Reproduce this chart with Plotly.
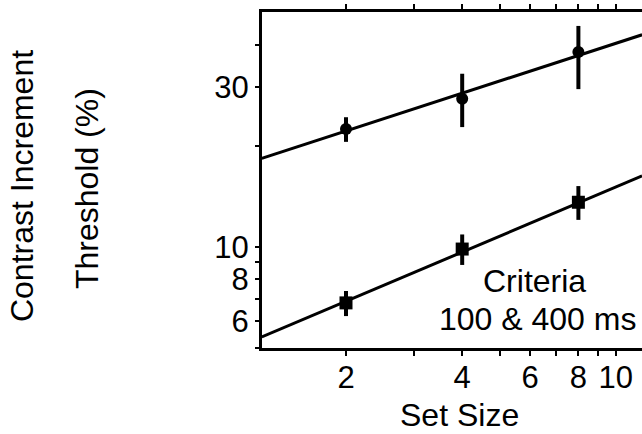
import plotly.graph_objects as go
import numpy as np

# Data
set_size = [2, 4, 8]
circ_y = [22.5, 27.7, 38.2]
circ_lo = [20.6, 22.8, 29.6]
circ_hi = [24.4, 32.9, 45.7]
sq_y = [6.81, 9.86, 13.6]
sq_lo = [6.22, 8.84, 12.05]
sq_hi = [7.39, 10.9, 15.2]
fit_x = [1.21, 11.7]
fit_circ = [18.4, 43.0]
fit_sq = [5.39, 16.3]
x_tickvals = [2, 3, 4, 5, 6, 7, 8, 9, 10]
x_ticktext = ["2", "", "4", "", "6", "", "8", "", "10"]
y_tickvals = [5, 6, 7, 8, 9, 10, 20, 30, 40]
y_ticktext = ["", "6", "", "8", "", "10", "", "30", ""]

FONT = "Arial, Liberation Sans, sans-serif"

fig = go.Figure()
fig.add_trace(go.Scatter(x=fit_x, y=fit_circ, mode="lines",
                         line=dict(color="black", width=3), showlegend=False))
fig.add_trace(go.Scatter(x=fit_x, y=fit_sq, mode="lines",
                         line=dict(color="black", width=3), showlegend=False))
fig.add_trace(go.Scatter(
    x=set_size, y=circ_y, mode="markers",
    marker=dict(symbol="circle", size=12, color="black"),
    error_y=dict(type="data", symmetric=False,
                 array=list(np.array(circ_hi) - np.array(circ_y)),
                 arrayminus=list(np.array(circ_y) - np.array(circ_lo)),
                 thickness=4, width=0, color="black"),
    showlegend=False))
fig.add_trace(go.Scatter(
    x=set_size, y=sq_y, mode="markers",
    marker=dict(symbol="square", size=13, color="black"),
    error_y=dict(type="data", symmetric=False,
                 array=list(np.array(sq_hi) - np.array(sq_y)),
                 arrayminus=list(np.array(sq_y) - np.array(sq_lo)),
                 thickness=4, width=0, color="black"),
    showlegend=False))

fig.update_layout(
    width=642, height=434,
    margin=dict(l=262, r=0, t=12, b=86),
    paper_bgcolor="white", plot_bgcolor="white",
    font=dict(family=FONT, size=31, color="black"),
    xaxis=dict(type="log", range=[0.0834, 1.0679],
               tickvals=x_tickvals, ticktext=x_ticktext,
               ticks="outside", ticklen=0, tickwidth=2, tickcolor="black",
               minor=dict(tickvals=x_tickvals, ticks="outside", ticklen=5,
                          tickwidth=2, tickcolor="black", showgrid=False),
               showline=True, linewidth=3, linecolor="black",
               mirror="ticks", showgrid=False, zeroline=False,
               tickfont=dict(size=31)),
    yaxis=dict(type="log", range=[0.6985, 1.7015],
               tickvals=y_tickvals, ticktext=y_ticktext,
               ticks="outside", ticklen=4, tickwidth=2, tickcolor="black",
               showline=True, linewidth=3, linecolor="black",
               mirror=False, showgrid=False, zeroline=False,
               tickfont=dict(size=31)),
    annotations=[
        dict(text="Criteria", xref="paper", yref="paper",
             x=0.718, y=0.199, xanchor="center", yanchor="middle",
             showarrow=False, font=dict(size=32)),
        dict(text="100 & 400 ms", xref="paper", yref="paper",
             x=0.726, y=0.086, xanchor="center", yanchor="middle",
             showarrow=False, font=dict(size=32)),
        dict(text="Set Size", xref="paper", yref="paper",
             x=0.521, y=-0.1994, xanchor="center", yanchor="middle",
             showarrow=False, font=dict(size=32)),
        dict(text="Contrast Increment", xref="paper", yref="paper",
             x=-0.6316, y=0.482, xanchor="center", yanchor="middle",
             textangle=-90, showarrow=False, font=dict(size=32)),
        dict(text="Threshold (%)", xref="paper", yref="paper",
             x=-0.4605, y=0.473, xanchor="center", yanchor="middle",
             textangle=-90, showarrow=False, font=dict(size=32)),
    ],
)

fig.write_html("out.html", config={"displayModeBar": False},
               post_script="document.body.style.margin='0';document.body.style.overflow='hidden';")
